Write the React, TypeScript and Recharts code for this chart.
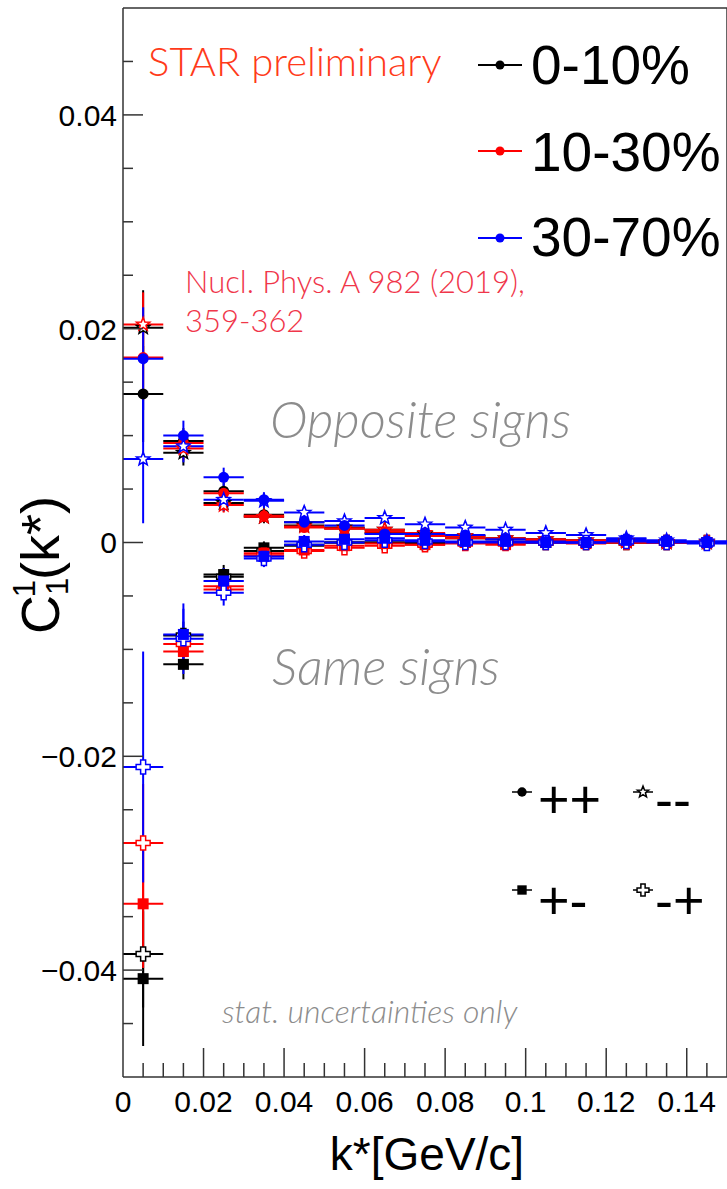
import React from 'react';
import { ScatterChart, Scatter, XAxis, YAxis, ErrorBar, ReferenceLine, Customized } from 'recharts';

// ---------- data ----------
const kBins = [0.005, 0.015, 0.025, 0.035, 0.045, 0.055, 0.065, 0.075, 0.085, 0.095, 0.105, 0.115, 0.125, 0.135, 0.145];
const kHalfWidth = [0.005, 0.005, 0.005, 0.005, 0.005, 0.005, 0.005, 0.005, 0.005, 0.005, 0.005, 0.005, 0.005, 0.005, 0.005];

// "++" (filled circle)
const ppC0 = [0.0139, 0.0095, 0.0048, 0.0026, 0.0019, 0.0013, 0.0009, 0.0006, 0.0004, 0.0003, 0.0002, 0.0001, 0.0001, 0.0000, 0.0000];
const ppC0Err = [0.0045, 0.0012, 0.0008, 0.0006, 0.0005, 0.0004, 0.0004, 0.0003, 0.0003, 0.0003, 0.0003, 0.0002, 0.0002, 0.0002, 0.0002];
const ppC1 = [0.0173, 0.0093, 0.0046, 0.0025, 0.0014, 0.0013, 0.0010, 0.0006, 0.0004, 0.0003, 0.0002, 0.0001, 0.0001, 0.0000, 0.0000];
const ppC1Err = [0.0040, 0.0011, 0.0007, 0.0005, 0.0004, 0.0004, 0.0003, 0.0003, 0.0003, 0.0002, 0.0002, 0.0002, 0.0002, 0.0002, 0.0002];
const ppC2 = [0.0172, 0.0100, 0.0061, 0.0040, 0.0019, 0.0016, 0.0008, 0.0008, 0.0007, 0.0003, 0.0001, 0.0000, 0.0003, 0.0001, 0.0001];
const ppC2Err = [0.0048, 0.0014, 0.0009, 0.0007, 0.0006, 0.0005, 0.0005, 0.0004, 0.0004, 0.0004, 0.0003, 0.0003, 0.0003, 0.0003, 0.0003];

// "--" (open star)
const mmC0 = [0.0201, 0.0084, 0.0037, 0.0024, 0.0016, 0.0014, 0.0012, 0.0008, 0.0006, 0.0004, 0.0003, 0.0002, 0.0001, 0.0000, 0.0000];
const mmC0Err = [0.0035, 0.0012, 0.0008, 0.0006, 0.0005, 0.0004, 0.0004, 0.0003, 0.0003, 0.0003, 0.0003, 0.0002, 0.0002, 0.0002, 0.0002];
const mmC1 = [0.0204, 0.0088, 0.0035, 0.0024, 0.0015, 0.0013, 0.0012, 0.0009, 0.0006, 0.0004, 0.0003, 0.0002, 0.0001, 0.0000, 0.0000];
const mmC1Err = [0.0030, 0.0011, 0.0007, 0.0005, 0.0004, 0.0004, 0.0003, 0.0003, 0.0003, 0.0002, 0.0002, 0.0002, 0.0002, 0.0002, 0.0002];
const mmC2 = [0.0078, 0.0090, 0.0040, 0.0039, 0.0028, 0.0020, 0.0023, 0.0017, 0.0014, 0.0012, 0.0009, 0.0007, 0.0004, 0.0002, 0.0001];
const mmC2Err = [0.0060, 0.0015, 0.0010, 0.0007, 0.0006, 0.0005, 0.0005, 0.0004, 0.0004, 0.0004, 0.0003, 0.0003, 0.0003, 0.0003, 0.0003];

// "+-" (filled square)
const pmC0 = [-0.0408, -0.0114, -0.0030, -0.0005, -0.0002, 0.0000, 0.0000, 0.0000, 0.0000, 0.0000, 0.0000, 0.0000, 0.0000, 0.0000, 0.0000];
const pmC0Err = [0.0063, 0.0014, 0.0009, 0.0006, 0.0005, 0.0004, 0.0004, 0.0003, 0.0003, 0.0003, 0.0003, 0.0002, 0.0002, 0.0002, 0.0002];
const pmC1 = [-0.0338, -0.0102, -0.0041, -0.0010, -0.0007, -0.0003, -0.0001, -0.0002, 0.0000, -0.0002, 0.0000, -0.0001, 0.0000, 0.0000, 0.0000];
const pmC1Err = [0.0060, 0.0013, 0.0008, 0.0005, 0.0004, 0.0004, 0.0003, 0.0003, 0.0003, 0.0002, 0.0002, 0.0002, 0.0002, 0.0002, 0.0002];
const pmC2 = [null, -0.0086, -0.0036, -0.0013, 0.0001, 0.0003, 0.0004, 0.0002, 0.0001, 0.0001, 0.0000, 0.0000, 0.0002, 0.0001, 0.0000];
const pmC2Err = [null, 0.0024, 0.0012, 0.0008, 0.0006, 0.0005, 0.0005, 0.0004, 0.0004, 0.0004, 0.0003, 0.0003, 0.0003, 0.0003, 0.0003];

// "-+" (open cross)
const mpC0 = [-0.0385, -0.0087, -0.0032, -0.0008, -0.0003, 0.0000, 0.0000, -0.0001, 0.0000, 0.0000, 0.0000, 0.0000, 0.0000, 0.0000, 0.0000];
const mpC0Err = [0.0050, 0.0013, 0.0008, 0.0006, 0.0005, 0.0004, 0.0004, 0.0003, 0.0003, 0.0003, 0.0003, 0.0002, 0.0002, 0.0002, 0.0002];
const mpC1 = [-0.0281, -0.0095, -0.0044, -0.0012, -0.0008, -0.0005, -0.0003, -0.0002, -0.0001, -0.0001, 0.0000, 0.0000, 0.0000, 0.0000, 0.0000];
const mpC1Err = [0.0055, 0.0013, 0.0008, 0.0005, 0.0004, 0.0004, 0.0003, 0.0003, 0.0003, 0.0002, 0.0002, 0.0002, 0.0002, 0.0002, 0.0002];
const mpC2 = [-0.0210, -0.0090, -0.0047, -0.0015, -0.0002, 0.0000, 0.0002, 0.0001, 0.0000, 0.0000, 0.0000, 0.0000, 0.0001, 0.0000, -0.0001];
const mpC2Err = [0.0108, 0.0033, 0.0012, 0.0008, 0.0006, 0.0005, 0.0005, 0.0004, 0.0004, 0.0004, 0.0003, 0.0003, 0.0003, 0.0003, 0.0005];

const centralityLabels = ['0-10%', '10-30%', '30-70%'];
const chargeLabels = ['++', '--', '+-', '-+'];

const yTicks = [-0.045, -0.04, -0.035, -0.03, -0.025, -0.02, -0.015, -0.01, -0.005, 0, 0.005, 0.01, 0.015, 0.02, 0.025, 0.03, 0.035, 0.04, 0.045];
const xTicks = [0, 0.005, 0.01, 0.015, 0.02, 0.025, 0.03, 0.035, 0.04, 0.045, 0.05, 0.055, 0.06, 0.065, 0.07, 0.075, 0.08, 0.085, 0.09, 0.095, 0.1, 0.105, 0.11, 0.115, 0.12, 0.125, 0.13, 0.135, 0.14, 0.145];

// ---------- styles ----------
const COLORS = ['#000000', '#ff0000', '#0000ff'];
const FONT = '"Liberation Sans", Arial, Helvetica, sans-serif';
const LIGHT = 'Lato, "Liberation Sans", sans-serif';
const FRAME = '#333333';

const build = (vals: (number | null)[], errs: (number | null)[]) =>
  kBins
    .map((k, i) => ({ k, c: vals[i], ek: kHalfWidth[i], ec: errs[i] }))
    .filter((p) => p.c !== null);

// ---------- marker shapes ----------
const starPoints = (cx: number, cy: number, ro: number, ri: number) => {
  const pts: string[] = [];
  for (let i = 0; i < 10; i++) {
    const r = i % 2 === 0 ? ro : ri;
    const a = -Math.PI / 2 + (i * Math.PI) / 5;
    pts.push(`${cx + r * Math.cos(a)},${cy + r * Math.sin(a)}`);
  }
  return pts.join(' ');
};
const crossPoints = (cx: number, cy: number, l: number, t: number) =>
  [
    [-t, -l], [t, -l], [t, -t], [l, -t], [l, t], [t, t], [t, l], [-t, l], [-t, t], [-l, t], [-l, -t], [-t, -t],
  ]
    .map(([dx, dy]) => `${cx + dx},${cy + dy}`)
    .join(' ');

const Marker = ({ kind, cx, cy, color, s = 1 }: { kind: string; cx: number; cy: number; color: string; s?: number }) => {
  if (kind === 'circle') return <circle cx={cx} cy={cy} r={5.5 * s} fill={color} />;
  if (kind === 'square') return <rect x={cx - 5.5 * s} y={cy - 5.5 * s} width={11 * s} height={11 * s} fill={color} />;
  if (kind === 'star')
    return <polygon points={starPoints(cx, cy, 7 * s, 3 * s)} fill="#fff" stroke={color} strokeWidth={1.5} />;
  return <polygon points={crossPoints(cx, cy, 7 * s, 2.5 * s)} fill="#fff" stroke={color} strokeWidth={1.5} />;
};

const makeShape = (kind: string, color: string) => (props: any) => {
  const { cx, cy } = props;
  if (cx == null || cy == null) return <g />;
  return <Marker kind={kind} cx={cx} cy={cy} color={color} />;
};

const kinds = ['circle', 'star', 'square', 'cross'];
const drawOrder = [1, 3, 0, 2]; // open markers under the filled ones
const seriesTable = [
  [build(ppC0, ppC0Err), build(mmC0, mmC0Err), build(pmC0, pmC0Err), build(mpC0, mpC0Err)],
  [build(ppC1, ppC1Err), build(mmC1, mmC1Err), build(pmC1, pmC1Err), build(mpC1, mpC1Err)],
  [build(ppC2, ppC2Err), build(mmC2, mmC2Err), build(pmC2, pmC2Err), build(mpC2, mpC2Err)],
];

// ---------- ticks ----------
const fmt = (v: number) => (v === 0 ? '0' : (v < 0 ? '\u2212' : '') + String(Math.abs(v)));
const isMajor = (v: number) => Math.abs(v / 0.02 - Math.round(v / 0.02)) < 1e-6;

const YTick = (props: any) => {
  const { x, y, payload } = props;
  const v = payload.value;
  const major = isMajor(v);
  return (
    <g>
      <line x1={x} x2={x + (major ? 20 : 10)} y1={y} y2={y} stroke={FRAME} strokeWidth={1.5} />
      {major && (
        <text x={x - 6} y={y} dy="0.36em" textAnchor="end" fontSize={30} fontFamily={FONT} fill="#000">
          {fmt(v)}
        </text>
      )}
    </g>
  );
};

const XTick = (props: any) => {
  const { x, y, payload } = props;
  const v = payload.value;
  const major = isMajor(v);
  return (
    <g>
      {v > 0 && <line x1={x} x2={x} y1={y} y2={y - (major ? 29 : 14)} stroke={FRAME} strokeWidth={1.5} />}
      {major && (
        <text x={x} y={y + 35} textAnchor="middle" fontSize={30} fontFamily={FONT} fill="#000">
          {fmt(v)}
        </text>
      )}
    </g>
  );
};

// ---------- annotations ----------
const Annotations = () => (
  <g>
    <text x={148} y={76} fontSize={40} fontWeight={300} fontFamily={LIGHT} fill="#ff3a1a">
      STAR preliminary
    </text>
    {centralityLabels.map((lab, i) => {
      const cy = [65, 151, 238][i];
      const base = [84, 171, 256][i];
      return (
        <g key={lab}>
          <line x1={478} x2={522} y1={cy} y2={cy} stroke={COLORS[i]} strokeWidth={2} />
          <circle cx={500} cy={cy} r={4.5} fill={COLORS[i]} />
          <text x={531} y={base} fontSize={55} fontFamily={FONT} fill="#000">
            {lab}
          </text>
        </g>
      );
    })}
    <text x={185} y={293} fontSize={31} fontWeight={300} fontFamily={LIGHT} fill="#f0364a">
      Nucl. Phys. A 982 (2019),
    </text>
    <text x={185} y={332} fontSize={31} fontWeight={300} fontFamily={LIGHT} fill="#f0364a">
      359-362
    </text>
    <text x={270} y={438} fontSize={51} fontStyle="italic" fontWeight={300} fontFamily={LIGHT} fill="#8c8c8c">
      Opposite signs
    </text>
    <text x={272} y={685} fontSize={51} fontStyle="italic" fontWeight={300} fontFamily={LIGHT} fill="#8c8c8c">
      Same signs
    </text>
    <text x={222} y={1023} fontSize={32} fontStyle="italic" fontWeight={300} fontFamily={LIGHT} fill="#8c8c8c">
      stat. uncertainties only
    </text>
    {chargeLabels.map((lab, i) => {
      const col = i % 2;
      const row = Math.floor(i / 2);
      const mx = col === 0 ? 522 : 643;
      const my = row === 0 ? 792 : 890;
      const kind = kinds[i];
      return (
        <g key={lab}>
          <line x1={mx - 10} x2={mx + 10} y1={my} y2={my} stroke="#000" strokeWidth={1.5} />
          <Marker kind={kind} cx={mx} cy={my} color="#000" s={0.85} />
          <text x={col === 0 ? 538 : 655} y={row === 0 ? 818 : 919} fontSize={54} fontFamily={FONT} fill="#000">
            {lab}
          </text>
        </g>
      );
    })}
  </g>
);

const XTitle = (props: any) => {
  const vb = props.viewBox || { x: 123, y: 1077, width: 604, height: 112 };
  return (
    <text x={427} y={vb.y + 93} textAnchor="middle" fontSize={46} fontFamily={FONT} fill="#000">
      k*[GeV/c]
    </text>
  );
};

const YTitle = () => (
  <text transform="translate(59,565) rotate(-90)" textAnchor="middle" fontSize={54} fontFamily={FONT} fill="#000">
    C
    <tspan fontSize={31} dy={9}>1</tspan>
    <tspan fontSize={31} dx={-17} dy={-33}>1</tspan>
    <tspan fontSize={54} dy={24}>(k*)</tspan>
  </text>
);

export default function App() {
  return (
    <div style={{ position: 'absolute', left: 0, top: 0, width: 727, height: 1189, background: '#fff' }}>
      <ScatterChart width={727} height={1189} margin={{ top: 8, right: 0, bottom: 0, left: 0 }}>
        <XAxis
          dataKey="k"
          type="number"
          domain={[0, 0.15]}
          allowDataOverflow
          ticks={xTicks}
          interval={0}
          tickSize={0}
          tickMargin={0}
          tickLine={false}
          tick={<XTick />}
          axisLine={{ stroke: FRAME, strokeWidth: 1.5 }}
          height={112}
          label={(p: any) => <XTitle {...p} />}
        />
        <YAxis
          dataKey="c"
          type="number"
          domain={[-0.05, 0.05]}
          allowDataOverflow
          ticks={yTicks}
          interval={0}
          tickSize={0}
          tickMargin={0}
          tickLine={false}
          tick={<YTick />}
          axisLine={{ stroke: FRAME, strokeWidth: 1.5 }}
          width={123}
        />
        <ReferenceLine y={0.05} stroke={FRAME} strokeWidth={1.5} />
        <ReferenceLine x={0.15} stroke={FRAME} strokeWidth={1.5} />
        {seriesTable.map((row, ci) =>
          drawOrder.map((ki) => (
            <Scatter
              key={`${ci}-${ki}`}
              name={`${centralityLabels[ci]} ${chargeLabels[ki]}`}
              data={row[ki]}
              isAnimationActive={false}
              shape={makeShape(kinds[ki], COLORS[ci])}
            >
              <ErrorBar dataKey="ec" direction="y" width={0} stroke={COLORS[ci]} strokeWidth={2} isAnimationActive={false} />
              <ErrorBar dataKey="ek" direction="x" width={0} stroke={COLORS[ci]} strokeWidth={2} isAnimationActive={false} />
            </Scatter>
          ))
        )}
        <Customized component={<Annotations />} />
        <Customized component={<YTitle />} />
      </ScatterChart>
    </div>
  );
}
